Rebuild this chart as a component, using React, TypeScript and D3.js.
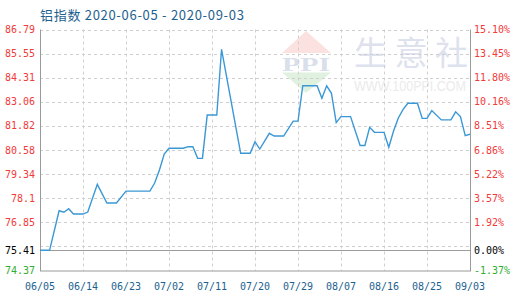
import React from "react";
import * as d3 from "d3";

// Aluminium index, daily closes (vertices of the series)
const dates = [
  "2020-06-05", "2020-06-07", "2020-06-09", "2020-06-10", "2020-06-11", "2020-06-12",
  "2020-06-14", "2020-06-15", "2020-06-17", "2020-06-19", "2020-06-21", "2020-06-23",
  "2020-06-28", "2020-06-29", "2020-06-30", "2020-07-01", "2020-07-02", "2020-07-05",
  "2020-07-06", "2020-07-07", "2020-07-08", "2020-07-09", "2020-07-10", "2020-07-12",
  "2020-07-13", "2020-07-17", "2020-07-19", "2020-07-20", "2020-07-21", "2020-07-23",
  "2020-07-24", "2020-07-26", "2020-07-28", "2020-07-29", "2020-07-30", "2020-08-02",
  "2020-08-03", "2020-08-04", "2020-08-05", "2020-08-06", "2020-08-07", "2020-08-09",
  "2020-08-11", "2020-08-12", "2020-08-13", "2020-08-14", "2020-08-16", "2020-08-17",
  "2020-08-18", "2020-08-19", "2020-08-20", "2020-08-21", "2020-08-23", "2020-08-24",
  "2020-08-25", "2020-08-26", "2020-08-28", "2020-08-30", "2020-08-31", "2020-09-01",
  "2020-09-02", "2020-09-03",
];
const values = [
  75.41, 75.41, 77.45, 77.37, 77.55, 77.28,
  77.28, 77.38, 78.81, 77.85, 77.85, 78.46,
  78.46, 78.88, 79.55, 80.37, 80.67, 80.67,
  80.75, 80.75, 80.15, 80.15, 82.38, 82.38,
  85.77, 80.41, 80.41, 81.01, 80.63, 81.44,
  81.30, 81.30, 82.07, 82.07, 83.89, 83.89,
  83.25, 83.89, 83.50, 81.99, 82.30, 82.30,
  80.81, 80.81, 81.75, 81.49, 81.49, 80.72,
  81.56, 82.23, 82.67, 82.99, 82.99, 82.21,
  82.21, 82.61, 82.13, 82.13, 82.55, 82.30,
  81.32, 81.39,
];

const xTickDates = [
  "2020-06-05", "2020-06-14", "2020-06-23", "2020-07-02", "2020-07-11", "2020-07-20",
  "2020-07-29", "2020-08-07", "2020-08-16", "2020-08-25", "2020-09-03",
];
const xTickLabels = ["06/05", "06/14", "06/23", "07/02", "07/11", "07/20", "07/29", "08/07", "08/16", "08/25", "09/03"];
const leftTickLabels = ["86.79", "85.55", "84.31", "83.06", "81.82", "80.58", "79.34", "78.1", "76.85"];
const rightTickLabels = ["15.10%", "13.45%", "11.80%", "10.16%", "8.51%", "6.86%", "5.22%", "3.57%", "1.92%"];
const baseValue = 75.41;
const baseLabels = ["75.41", "0.00%"];
const minValue = 74.37;
const minLabels = ["74.37", "-1.37%"];
const maxValue = 86.79;
const title = "铝指数 2020-06-05 - 2020-09-03";

const W = 520;
const H = 300;
const L = 40;
const R = 470;
const T = 29.5;
const B = 270.5;

const parse = d3.utcParse("%Y-%m-%d");

export default function App() {
  const x = d3
    .scaleUtc()
    .domain([parse(dates[0]) as Date, parse(dates[dates.length - 1]) as Date])
    .range([L, R]);
  const y = d3.scaleLinear().domain([minValue, maxValue]).range([B, T]);

  const step = (maxValue - minValue) / 10;
  const gridValues = d3.range(10).map((k) => maxValue - k * step);

  const points = dates.map((d, i) => [x(parse(d) as Date), y(values[i])] as [number, number]);
  const path = d3.line()(points) || "";

  const mono = "'DejaVu Sans Mono', 'Liberation Mono', monospace";
  const red = "#f23a3a";
  const green = "#2fae2f";
  const blue = "#1d5f8f";
  const grid = "#cfcfcf";
  const axis = "#9a9a9a";

  return (
    <svg
      width={W}
      height={H}
      style={{ position: "absolute", left: 0, top: 0, background: "#fff" }}
      xmlns="http://www.w3.org/2000/svg"
    >
      <defs>
        <clipPath id="plot">
          <rect x={L} y={T} width={R - L} height={B - T} />
        </clipPath>
      </defs>

      {/* watermark */}
      <g clipPath="url(#plot)">
        <polygon points="306,31 282,53 331,53" fill="#fbe1df" />
        <text
          x={306}
          y={70.5}
          textAnchor="middle"
          fontFamily="'Liberation Serif', serif"
          fontWeight="bold"
          fontSize={19}
          fill="#d9dfeb"
          textLength={48}
          lengthAdjust="spacingAndGlyphs"
        >
          PPI
        </text>
        <polygon points="282,72.5 331,72.5 306,93" fill="#e0f1e0" />
        <text
          x={354}
          y={65}
          fontFamily="'Noto Sans CJK SC', sans-serif"
          fontSize={33}
          fill="#dde2ee"
          textLength={114}
          lengthAdjust="spacing"
        >
          生意社
        </text>
        <g transform="translate(354,91) scale(1,1.2)">
          <text
            x={0}
            y={0}
            fontFamily="'Liberation Sans', sans-serif"
            fontSize={12.5}
            fill="#ebebeb"
            textLength={112}
            lengthAdjust="spacingAndGlyphs"
          >
            WWW.100PPI.COM
          </text>
        </g>
      </g>

      {/* horizontal grid */}
      {gridValues.map((v, i) => (
        <line
          key={"h" + i}
          x1={L}
          x2={R}
          y1={Math.round(y(v)) + 0.5}
          y2={Math.round(y(v)) + 0.5}
          stroke={grid}
          strokeDasharray="3,3"
        />
      ))}
      {/* vertical grid */}
      {xTickDates.slice(1, -1).map((d, i) => {
        const xx = Math.round(x(parse(d) as Date)) + 0.5;
        return <line key={"v" + i} x1={xx} x2={xx} y1={T} y2={B} stroke={grid} strokeDasharray="3,3" />;
      })}

      {/* axes frame */}
      <line x1={L + 0.5} x2={L + 0.5} y1={T} y2={B + 0.5} stroke={axis} />
      <line x1={R + 0.5} x2={R + 0.5} y1={T} y2={B + 0.5} stroke={axis} />
      <line x1={L} x2={R + 1} y1={B + 0.5} y2={B + 0.5} stroke={axis} />
      <line
        x1={L}
        x2={R}
        y1={Math.round(y(baseValue)) + 0.5}
        y2={Math.round(y(baseValue)) + 0.5}
        stroke={axis}
      />

      {/* series */}
      <path d={path} fill="none" stroke="#3a98d6" strokeWidth={1.4} clipPath="url(#plot)" />

      {/* left labels */}
      <g fontFamily={mono} fontSize={10} textAnchor="end">
        {leftTickLabels.map((t, i) => (
          <text key={"l" + i} x={35} y={y(gridValues[i])} dy="0.35em" fill={red}>
            {t}
          </text>
        ))}
        <text x={35} y={y(baseValue)} dy="0.35em" fill="#000">
          {baseLabels[0]}
        </text>
        <text x={35} y={y(minValue)} dy="0.35em" fill={green}>
          {minLabels[0]}
        </text>
      </g>

      {/* right labels */}
      <g fontFamily={mono} fontSize={10} textAnchor="start">
        {rightTickLabels.map((t, i) => (
          <text key={"r" + i} x={474} y={y(gridValues[i])} dy="0.35em" fill={red}>
            {t}
          </text>
        ))}
        <text x={474} y={y(baseValue)} dy="0.35em" fill="#000">
          {baseLabels[1]}
        </text>
        <text x={474} y={y(minValue)} dy="0.35em" fill={green}>
          {minLabels[1]}
        </text>
      </g>

      {/* x labels */}
      <g fontFamily={mono} fontSize={10} textAnchor="middle" fill={blue}>
        {xTickDates.map((d, i) => (
          <text key={"x" + i} x={x(parse(d) as Date)} y={290}>
            {xTickLabels[i]}
          </text>
        ))}
      </g>

      {/* title */}
      <text
        x={40}
        y={20}
        fontFamily="'Noto Sans CJK SC', 'Noto Sans', sans-serif"
        fontSize={13}
        letterSpacing={0.7}
        fill={blue}
      >
        {title}
      </text>
    </svg>
  );
}
